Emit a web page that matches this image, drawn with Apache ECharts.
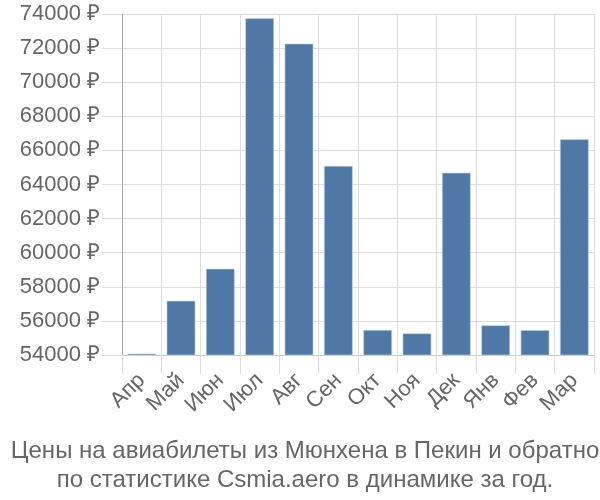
<!DOCTYPE html>
<html><head><meta charset="utf-8">
<script src="https://cdn.jsdelivr.net/npm/echarts@6/dist/echarts.min.js"></script>
<style>html,body{margin:0;padding:0;background:#fff}#c{width:600px;height:500px}</style>
</head><body><div id="c"></div>
<script>
const categories = ['Апр','Май','Июн','Июл','Авг','Сен','Окт','Ноя','Дек','Янв','Фев','Мар'];
const prices = [54080, 57180, 59060, 73750, 72260, 65090, 55470, 55270, 64690, 55740, 55460, 66650];
const titleLines = ['Цены на авиабилеты из Мюнхена в Пекин и обратно','по статистике Csmia.aero в динамике за год.'];
const yMin = 54000, yMax = 74000, yStep = 2000;

const font = 'Liberation Sans, Arial, sans-serif';
const chart = echarts.init(document.getElementById('c'), null, {renderer:'canvas'});
chart.setOption({
  animation:false,
  grid:{left:122, right:6, top:14, bottom:145, containLabel:false},
  title:{text:titleLines.join('\n'), left:300, top:432, textAlign:'center',
    textStyle:{fontFamily:font, fontSize:24, fontWeight:'normal', color:'#666', lineHeight:29}},
  xAxis:{type:'category', data:categories,
    axisLine:{show:true, lineStyle:{color:'#ccc', width:1}},
    axisTick:{show:true, length:19, interval:0, lineStyle:{color:'#ddd'}},
    splitLine:{show:true, interval:0, lineStyle:{color:'#ddd', width:1}},
    axisLabel:{interval:0, rotate:45, margin:22, fontFamily:font, fontSize:22, color:'#666'}},
  yAxis:{type:'value', min:yMin, max:yMax, interval:yStep,
    axisLine:{show:true, lineStyle:{color:'#aaa', width:1}},
    axisTick:{show:true, length:20, lineStyle:{color:'#ddd'}},
    splitLine:{show:true, lineStyle:{color:'#ddd', width:1}},
    axisLabel:{margin:22, formatter: v => v + ' ₽', fontFamily:font, fontSize:22, color:'#666'}},
  series:[{type:'bar', data:prices, barCategoryGap:'27%',
    itemStyle:{color:'#4e79a7', borderColor:'#c8d6e5', borderWidth:0.6}}]
});
</script></body></html>
